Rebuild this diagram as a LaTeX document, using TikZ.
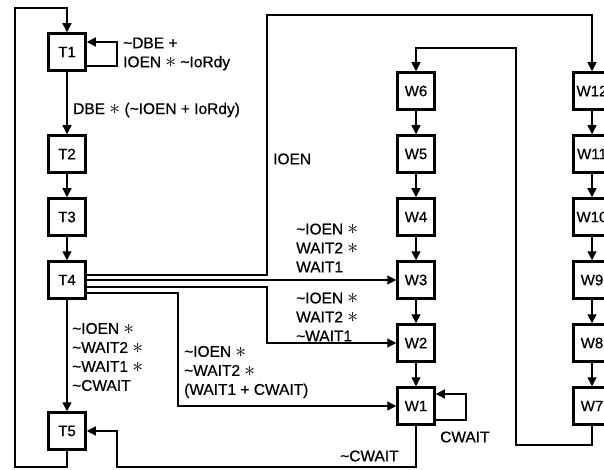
\documentclass[tikz,border=0pt]{standalone}
\usepackage{fontspec}
\setmainfont{Liberation Sans}[FakeBold=0.6]
\usetikzlibrary{arrows.meta,calc}
\newcommand{\tl}{\textasciitilde}
\newcommand{\st}{\smash{\raisebox{-0.5pt}{\scalebox{1.5}{$\ast$}}}}
\begin{document}
\begin{tikzpicture}[x=1pt,y=-1pt,
  box/.style={draw, line width=2.5pt, minimum width=37pt, minimum height=37pt, inner sep=0pt, font=\fontsize{15}{18}\selectfont},
  conn/.style={line width=1.4pt},
  arr/.style={conn, -{Triangle[length=9pt,width=9pt]}},
  lbl/.style={align=left, inner sep=0pt, anchor=west, font=\fontsize{15.5}{19}\selectfont}]
\useasboundingbox (0,0) rectangle (604,470);
\clip (0,0) rectangle (604,470);
% T column
\node[box] (T1) at (67,52) {T1};
\node[box] (T2) at (67,154) {T2};
\node[box] (T3) at (67,217) {T3};
\node[box] (T4) at (67,280) {T4};
\node[box] (T5) at (67,431) {T5};
% W column
\node[box] (W6) at (416,91) {W6};
\node[box] (W5) at (416,154) {W5};
\node[box] (W4) at (416,217) {W4};
\node[box] (W3) at (416,280) {W3};
\node[box] (W2) at (416,343) {W2};
\node[box] (W1) at (416,406) {W1};
% W right column
\node[box] (W12) at (592,91) {W12};
\node[box] (W11) at (592,154) {W11};
\node[box] (W10) at (592,217) {W10};
\node[box] (W9) at (592,280) {W9};
\node[box] (W8) at (592,343) {W8};
\node[box] (W7) at (592,406) {W7};
% coordinates
\coordinate (lb) at (15,467);
\coordinate (lt) at (15,8);
\coordinate (t1a) at (117,66);
\coordinate (t1b) at (117,42);
\coordinate (a1) at (267,15);
\coordinate (a2) at (267,343);
\coordinate (a3) at (178,406);
\coordinate (b1) at (516,445);
\coordinate (b2) at (516,48);
\coordinate (c1) at (466,420);
\coordinate (c2) at (466,394);
\coordinate (d1) at (117,467);
% T chain
\draw[arr] (T1) -- (T2);
\draw[arr] (T2) -- (T3);
\draw[arr] (T3) -- (T4);
\draw[arr] (T4) -- (T5);
\draw[arr] (T5.south) |- (lb) -- (lt) -| (T1.north);
\draw[arr] (T1.east |- t1a) -- (t1a) -- (t1b) -- (T1.east |- t1b);
% W chains
\draw[arr] (W6) -- (W5);
\draw[arr] (W5) -- (W4);
\draw[arr] (W4) -- (W3);
\draw[arr] (W3) -- (W2);
\draw[arr] (W2) -- (W1);
\draw[arr] (W12) -- (W11);
\draw[arr] (W11) -- (W10);
\draw[arr] (W10) -- (W9);
\draw[arr] (W9) -- (W8);
\draw[arr] (W8) -- (W7);
\draw[arr] (W7.south) |- (b1) -- (b2) -| (W6.north);
\draw[arr] (W1.east |- c1) -- (c1) -- (c2) -- (W1.east |- c2);
\draw[arr] (W1.south) |- (d1) |- (T5.east);
% T4 outputs
\draw[arr] ($(T4.east)+(0,-5)$) -| (a1) -| (W12.north);
\draw[arr] (T4.east) -- (W3.west);
\draw[arr] ($(T4.east)+(0,7)$) -| (a2) -- (W2.west);
\draw[arr] ($(T4.east)+(0,13)$) -| (a3) -- (W1.west);
% labels
\node[lbl] (l1) at (123,54) {\tl DBE +\\IOEN \st{} \tl IoRdy};
\node[lbl] (l2) at (73,110) {DBE \st{} (\tl IOEN + IoRdy)};
\node[lbl] (l3) at (273,159) {IOEN};
\node[lbl] (l4) at (296,248) {\tl IOEN \st\\WAIT2 \st\\WAIT1};
\node[lbl] (l5) at (296,317) {\tl IOEN \st\\WAIT2 \st\\\tl WAIT1};
\node[lbl] (l6) at (72,357) {\tl IOEN \st\\\tl WAIT2 \st\\\tl WAIT1 \st\\\tl CWAIT};
\node[lbl] (l7) at (184,372) {\tl IOEN \st\\\tl WAIT2 \st\\(WAIT1 + CWAIT)};
\node[lbl] (l8) at (440,437) {CWAIT};
\node[lbl] (l9) at (340,456) {\tl CWAIT};
\end{tikzpicture}
\end{document}
